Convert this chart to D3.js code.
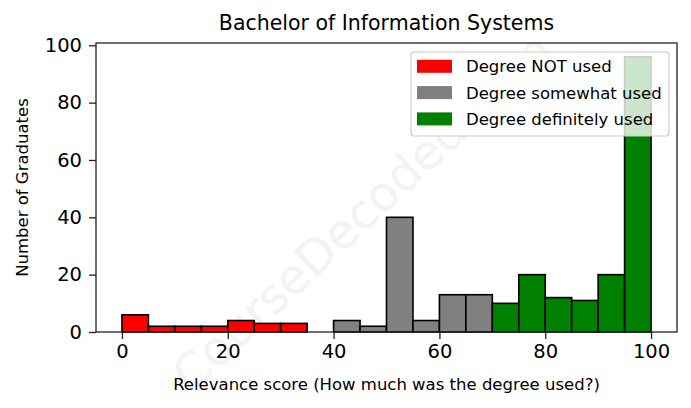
<!DOCTYPE html>
<html>
<head>
<meta charset="utf-8">
<script src="https://cdn.jsdelivr.net/npm/d3@7"></script>
<style>
  html, body { margin: 0; padding: 0; background: #fff; }
  svg { display: block; font-family: "DejaVu Sans", sans-serif; }
</style>
</head>
<body>
<svg id="chart" width="691" height="408"></svg>
<script>
// ---- data ----
const binStarts = [0, 5, 10, 15, 20, 25, 30, 35, 40, 45, 50, 55, 60, 65, 70, 75, 80, 85, 90, 95];
const binWidth = 5;
const counts    = [6, 2, 2, 2, 4, 3, 3, 0, 4, 2, 40, 4, 13, 13, 10, 20, 12, 11, 20, 96];
const groups    = [0, 0, 0, 0, 0, 0, 0, 0, 1, 1, 1, 1, 1, 1, 2, 2, 2, 2, 2, 2];
const legendLabels = ["Degree NOT used", "Degree somewhat used", "Degree definitely used"];
const groupColors  = ["#ff0000", "#808080", "#008000"];
const xTicks = [0, 20, 40, 60, 80, 100];
const yTicks = [0, 20, 40, 60, 80, 100];
const titleText = "Bachelor of Information Systems";
const xLabel = "Relevance score (How much was the degree used?)";
const yLabel = "Number of Graduates";
const watermark = "CourseDecoded.com";

// ---- layout ----
const plot = { left: 96, right: 677, top: 43, bottom: 332 };
const svg = d3.select("#chart");

const x = d3.scaleLinear().domain([-5, 105]).range([plot.left - 0.5, plot.right + 0.5]);
const y = d3.scaleLinear().domain([0, 100.8]).range([plot.bottom, plot.top]);

// watermark
svg.append("text")
  .attr("transform", "translate(362,212) rotate(-43)")
  .attr("text-anchor", "middle")
  .attr("dominant-baseline", "central")
  .attr("font-size", 48)
  .attr("fill", "#f3f3f3")
  .text(watermark);

// bars
const bins = binStarts.map((s, i) => ({ start: s, count: counts[i], group: groups[i] }))
  .filter(d => d.count > 0);

svg.append("g").selectAll("rect")
  .data(bins)
  .join("rect")
  .attr("x", d => x(d.start))
  .attr("y", d => y(d.count))
  .attr("width", d => x(d.start + binWidth) - x(d.start))
  .attr("height", d => y(0) - y(d.count))
  .attr("fill", d => groupColors[d.group])
  .attr("stroke", "#000")
  .attr("stroke-width", 1.6);

// frame
svg.append("rect")
  .attr("x", plot.left).attr("y", plot.top)
  .attr("width", plot.right - plot.left).attr("height", plot.bottom - plot.top)
  .attr("fill", "none").attr("stroke", "#222").attr("stroke-width", 1.3);

// axes
const xAxis = d3.axisBottom(x).tickValues(xTicks).tickSize(7).tickPadding(5).tickFormat(d3.format("d"));
const gx = svg.append("g").attr("transform", `translate(0,${plot.bottom})`).call(xAxis);
const yAxis = d3.axisLeft(y).tickValues(yTicks).tickSize(7).tickPadding(7).tickFormat(d3.format("d"));
const gy = svg.append("g").attr("transform", `translate(${plot.left},0)`).call(yAxis);
[gx, gy].forEach(g => {
  g.select(".domain").remove();
  g.selectAll(".tick line").attr("stroke", "#222").attr("stroke-width", 1.3);
  g.selectAll(".tick text").attr("font-size", 19.5).attr("fill", "#000")
    .attr("font-family", "DejaVu Sans");
});

// title & labels
svg.append("text")
  .attr("x", (plot.left + plot.right) / 2).attr("y", 30)
  .attr("text-anchor", "middle").attr("font-size", 20.5).attr("fill", "#000")
  .text(titleText);

svg.append("text")
  .attr("x", (plot.left + plot.right) / 2).attr("y", 390)
  .attr("text-anchor", "middle").attr("font-size", 16.5).attr("fill", "#000")
  .text(xLabel);

svg.append("text")
  .attr("transform", `translate(28,${(plot.top + plot.bottom) / 2}) rotate(-90)`)
  .attr("text-anchor", "middle").attr("font-size", 16.5).attr("fill", "#000")
  .text(yLabel);

// legend
const lg = svg.append("g");
lg.append("rect")
  .attr("x", 411).attr("y", 52).attr("width", 258).attr("height", 84)
  .attr("rx", 3).attr("fill", "#fff").attr("fill-opacity", 0.8)
  .attr("stroke", "#cccccc").attr("stroke-width", 1.2);
legendLabels.forEach((lab, i) => {
  const cy = 66.3 + i * 26.3;
  lg.append("rect")
    .attr("x", 417).attr("y", cy - 6.5).attr("width", 35).attr("height", 13)
    .attr("fill", groupColors[i]);
  lg.append("text")
    .attr("x", 466).attr("y", cy).attr("dy", "0.36em")
    .attr("font-size", 16.5).attr("fill", "#000")
    .text(lab);
});
</script>
</body>
</html>
